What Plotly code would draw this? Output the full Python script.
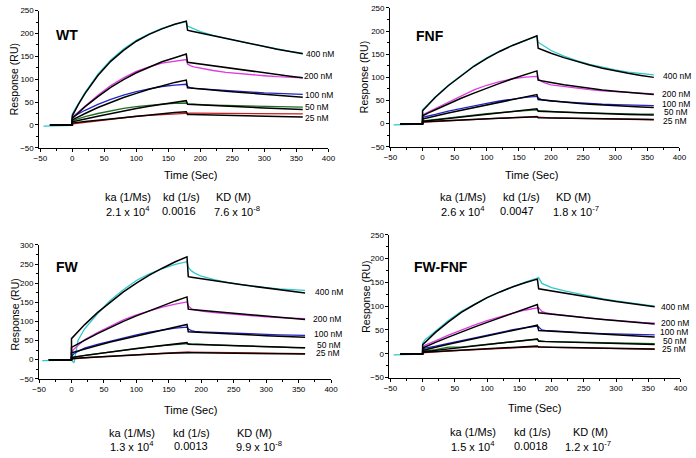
import plotly.graph_objects as go

# ---------------- data ----------------
T_ASSOC = [0, 4, 10, 20, 40, 60, 80, 100, 120, 140, 160, 178]
T_DISS = [180, 185, 190, 200, 220, 240, 260, 280, 300, 320, 340, 360]
BASE_T = [-45, -30, -15, 0]
BASE_Y = [-2.5, -1.5, -1, -1]
FIT_BASE_T = [-35, 0]
FIT_BASE_Y = [0, 0]

CONCS = ["400 nM", "200 nM", "100 nM", "50 nM", "25 nM"]
DATA_COLORS = ["#2ec8cc", "#e03ae0", "#2323c8", "#1f6e1f", "#c81e1e"]

# ---- WT ----
WT_FIT_ASSOC = [
    [20, 31, 46, 69, 108, 139, 163, 183, 198, 210, 220, 227],
    [14, 19.5, 27, 40, 62, 82, 99, 114, 126, 138, 147, 155],
    [11, 14, 18, 25, 38, 49, 60, 69, 78, 85, 93, 98],
    [7, 8, 10, 13, 19, 25, 31, 36, 41, 45, 49, 53],
    [4, 5, 6, 7.5, 10.5, 13.5, 16.5, 19, 22, 24.5, 27, 29],
]
WT_FIT_DISS = [
    [207, 205.5, 204, 200.5, 194, 188, 182, 176, 171, 165.5, 160.5, 155.5],
    [137, 136, 135, 132.7, 128.6, 124.6, 120.7, 117, 113.3, 109.8, 106.4, 103],
    [81, 80.5, 80, 78.5, 76, 73.7, 71.4, 69.2, 67, 64.9, 62.9, 60.7],
    [45, 44.6, 44.3, 43.6, 42.2, 40.9, 39.7, 38.4, 37.2, 36.1, 35, 33.8],
    [23, 22.8, 22.6, 22.3, 21.6, 20.9, 20.3, 19.7, 19.1, 18.5, 17.9, 17.3],
]
WT_DATA_ASSOC = [
    [24, 34, 48, 71, 111, 142, 166, 185, 199, 211, 220, 226],
    [16, 22, 29, 42, 65, 86, 103, 117, 127, 135, 140, 143],
    [17, 20, 25, 32, 45, 56, 65, 73, 79, 84, 87, 89],
    [9, 11, 14, 18, 25, 31, 36, 40, 43, 45.5, 47, 48],
    [2, 3, 4, 6, 10, 13.5, 16.5, 19, 21, 23, 25, 26],
]
WT_DATA_DISS = [
    [216, 213, 210, 204, 196, 189, 183, 177, 171, 166, 161, 157],
    [133, 129, 127, 124, 119, 115, 112, 109.5, 107.5, 105.5, 104, 103],
    [84, 81, 80, 79, 76.5, 74.5, 73, 71.5, 70, 69, 68, 67],
    [46, 45.5, 45, 44.5, 43.5, 42.5, 41.7, 41, 40.4, 39.9, 39.4, 39],
    [26, 26, 26, 25.8, 25.5, 25.3, 25, 24.8, 24.6, 24.4, 24.2, 24],
]
WT_LABEL_X = [362, 359, 361, 361, 361]
WT_LABEL_Y = [154, 106, 66, 39, 16]
WT_KIN = ["2.1 x 10<sup>4</sup>", "0.0016", "7.6 x 10<sup>-8</sup>"]

# ---- FNF ----
FNF_FIT_ASSOC = [
    [28, 34, 43, 57, 82, 104, 124, 141, 156, 169, 180.5, 190],
    [17, 20, 24, 30, 43, 55, 66, 77, 87, 97, 106, 114],
    [10, 11, 13, 16.5, 23, 29, 35, 41, 46.5, 52, 57.5, 63],
    [5, 5.6, 6.5, 8, 11, 14, 17, 20, 23, 26, 29, 32],
    [4, 4.3, 4.7, 5.3, 6.6, 7.9, 9.1, 10.3, 11.5, 12.7, 13.9, 15],
]
FNF_FIT_DISS = [
    [163, 160, 157.5, 152.2, 142.6, 134.2, 126.6, 119.9, 114, 108.8, 104.1, 100],
    [94, 92.5, 91.2, 88.7, 84, 79.8, 76.1, 72.8, 69.9, 67.3, 65, 63],
    [52, 51.2, 50.4, 49, 46.3, 44, 42, 40.2, 38.6, 37.2, 36, 35],
    [27, 26.7, 26.4, 25.8, 24.6, 23.6, 22.6, 21.7, 20.8, 20, 19.3, 18.6],
    [13, 12.9, 12.7, 12.4, 11.9, 11.4, 11, 10.6, 10.2, 9.8, 9.4, 9],
]
FNF_DATA_ASSOC = [
    [30, 36, 44, 58, 83, 105, 125, 142, 157, 169, 180, 189],
    [18, 22, 26, 33, 47, 61, 73, 83, 91, 97, 100.5, 102],
    [13, 15, 16.5, 20, 27, 33, 39, 44, 49, 53.5, 57, 59],
    [6, 6.5, 7.5, 9, 12, 15.5, 18.5, 21.5, 24, 26.5, 28.5, 30],
    [3, 3.3, 3.8, 4.5, 6, 7.5, 9, 10.5, 12, 13.2, 14.3, 15.5],
]
FNF_DATA_DISS = [
    [176, 171, 167, 158, 146, 136, 128, 121.5, 116, 111.5, 108, 105.5],
    [97, 91, 88, 84, 80, 76.5, 73.5, 71, 69, 67, 65.5, 64.5],
    [56, 52, 51, 49, 47, 45, 43.5, 42, 41, 40, 39.5, 39],
    [28, 27.5, 27, 26, 25, 24, 23, 22.3, 21.7, 21.2, 20.8, 20.5],
    [14, 13.5, 13, 12.5, 11.8, 11.2, 10.6, 10.1, 9.6, 9.2, 8.8, 8.5],
]
FNF_LABEL_X = [371, 369, 369, 372, 371]
FNF_LABEL_Y = [103, 65, 42, 25, 6]
FNF_KIN = ["2.6 x 10<sup>4</sup>", "0.0047", "1.8 x 10<sup>-7</sup>"]

# ---- FW ----
FW_FIT_ASSOC = [
    [55, 62.5, 73, 91, 123, 151, 177, 200, 221, 239, 256, 269],
    [32, 36, 41.5, 50.5, 68, 84.5, 100, 114.5, 128, 141, 153.5, 164],
    [18, 20, 23, 28, 37, 46, 54, 62, 70, 77, 85, 92],
    [6, 7, 8.5, 11, 15.5, 20, 24.5, 29, 33, 37, 41, 44.5],
    [3, 3.4, 4, 5, 7, 9, 11, 12.5, 14, 16, 17.5, 19],
]
FW_FIT_DISS = [
    [217, 215.6, 214.2, 211.4, 206.2, 201.2, 196.4, 191.8, 187.3, 183, 178.5, 174.5],
    [132, 131, 130.3, 128.6, 125.3, 122.1, 119, 116, 113, 110.2, 107.4, 104.7],
    [73, 72.5, 72, 71.1, 69.3, 67.6, 65.9, 64.3, 62.7, 61.2, 59.7, 58.3],
    [40, 39.7, 39.5, 39, 38, 37, 36, 35, 34, 33, 32, 31],
    [18, 17.9, 17.8, 17.6, 17.2, 16.8, 16.4, 16, 15.6, 15.2, 14.8, 14.5],
]
FW_DATA_ASSOC = [
    [-2, -8, 50, 80, 120, 155, 183, 207, 224, 238, 249, 256],
    [20, 28, 38, 52, 71, 88, 104, 117, 128, 137, 145, 151],
    [8, 16, 21, 30, 40, 49, 57, 65, 72, 78, 82.5, 85],
    [4, 6, 8.5, 11, 16, 20.5, 25, 29, 33, 36.5, 39.5, 42],
    [1, 2, 3.5, 5, 7.5, 9.5, 11.5, 13.5, 15.5, 17.5, 19.5, 21],
]
FW_DATA_DISS = [
    [241, 232, 226, 218, 209, 202, 197, 192, 188, 185, 182.5, 181],
    [140, 133, 130, 127, 123, 120, 117, 114.5, 112, 110, 108.5, 107],
    [80, 76, 74, 72.5, 71, 69.5, 68, 67, 66, 65, 64, 63.5],
    [42, 41, 40.5, 40, 38.5, 37.2, 36, 35, 34, 33, 32, 31],
    [20, 19.8, 19.6, 19.3, 18.8, 18.4, 18, 17.6, 17.2, 16.8, 16.4, 16],
]
FW_LABEL_X = [372, 369, 370, 375, 374]
FW_LABEL_Y = [177, 107, 67, 38, 17]
FW_KIN = ["1.3 x 10<sup>4</sup>", "0.0013", "9.9 x 10<sup>-8</sup>"]

# ---- FW-FNF ----
FWFNF_FIT_ASSOC = [
    [19, 24.5, 32.5, 45, 67, 87, 103, 118, 130, 141, 150, 157],
    [12, 14.5, 18, 24, 35, 46, 56, 66, 76, 85.5, 95, 103.5],
    [7, 8.5, 10.5, 13.5, 20, 26, 32, 38, 44, 49.5, 55, 60],
    [4, 4.6, 5.5, 7, 10, 13, 16, 19, 22, 25, 28, 31],
    [3, 3.3, 3.8, 4.5, 6, 7.5, 9, 10.5, 12, 13.5, 14.8, 16],
]
FWFNF_FIT_DISS = [
    [136.5, 135.3, 134.1, 131.7, 127, 122.5, 118.2, 114, 110, 106.1, 102.4, 98.8],
    [86, 85.2, 84.5, 83, 80, 77.3, 74.6, 72, 69.5, 67, 64.7, 62.5],
    [49, 48.6, 48.2, 47.3, 45.6, 44, 42.4, 40.9, 39.4, 38, 36.7, 35.4],
    [26, 25.8, 25.6, 25.2, 24.4, 23.6, 22.8, 22, 21.3, 20.6, 20, 19.3],
    [14, 13.9, 13.8, 13.6, 13.2, 12.7, 12.3, 11.8, 11.4, 11, 10.5, 10],
]
FWFNF_DATA_ASSOC = [
    [22, 30, 36, 48, 70, 89, 104, 118, 130, 141, 151, 159],
    [14, 18, 21, 27, 39, 50, 60, 69.5, 78, 85.5, 92, 96],
    [10, 12, 13, 16, 22, 28, 34, 40, 45.5, 50.5, 55, 58],
    [5, 6, 7, 8.5, 14, 14, 17, 20, 23, 26, 28.5, 30.5],
    [2, 2.5, 3.2, 4, 5.5, 7, 8.5, 10, 11.5, 13, 14.2, 15],
]
FWFNF_DATA_DISS = [
    [160, 148, 145, 139, 132, 126, 120.5, 115.5, 111, 107, 103, 100],
    [97, 89, 86.5, 84, 80.5, 77.5, 75, 72.5, 70, 68, 66, 64.5],
    [56, 50, 49, 48, 46.5, 45, 43.5, 42.5, 41.5, 40.5, 40, 39.5],
    [28, 26.5, 26, 25.5, 24.8, 24.1, 23.4, 22.8, 22.3, 21.8, 21.4, 21],
    [15, 14.5, 14, 13.5, 12.9, 12.3, 11.7, 11.1, 10.5, 10, 9.5, 9],
]
FWFNF_LABEL_X = [366, 367, 365, 370, 368]
FWFNF_LABEL_Y = [99, 65, 45, 26, 9]
FWFNF_KIN = ["1.5 x 10<sup>4</sup>", "0.0018", "1.2 x 10<sup>-7</sup>"]

KIN_HEADERS = ["ka (1/Ms)", "kd (1/s)", "KD (M)"]

# ---------------- layout helpers (pixel geometry of the 696x458 page) ----------------
W, H = 696, 458
FONT = "Liberation Sans, Arial, Helvetica, sans-serif"


def px(x):
    return x / W


def py(y):
    return 1 - y / H


panels = [
    dict(name="WT", fa=WT_FIT_ASSOC, fd=WT_FIT_DISS, da=WT_DATA_ASSOC, dd=WT_DATA_DISS,
         lx=WT_LABEL_X, ly=WT_LABEL_Y, kin=WT_KIN,
         dom_x=(33, 328), dom_y=(6.7, 146.7), xr=[-51.5, 400], yr=[-50, 250],
         ytitle=(8, 77), xtitle=(187, 174), title=(48, 32),
         kin_x=(123, 178, 231), kin_vx=(123, 176, 235), kin_y=(197, 211)),
    dict(name="FNF", fa=FNF_FIT_ASSOC, fd=FNF_FIT_DISS, da=FNF_DATA_ASSOC, dd=FNF_DATA_DISS,
         lx=FNF_LABEL_X, ly=FNF_LABEL_Y, kin=FNF_KIN,
         dom_x=(391, 686.3), dom_y=(4, 145.7), xr=[-50.5, 400], yr=[-50, 250],
         ytitle=(364, 75), xtitle=(535, 174), title=(415, 33),
         kin_x=(465, 525, 578), kin_vx=(465, 520, 581), kin_y=(197, 211)),
    dict(name="FW", fa=FW_FIT_ASSOC, fd=FW_FIT_DISS, da=FW_DATA_ASSOC, dd=FW_DATA_DISS,
         lx=FW_LABEL_X, ly=FW_LABEL_Y, kin=FW_KIN,
         dom_x=(32.7, 330.7), dom_y=(245.7, 382.3), xr=[-50, 400], yr=[-50, 300],
         ytitle=(8, 317), xtitle=(187, 414), title=(48, 268),
         kin_x=(128, 188, 253), kin_vx=(128, 188, 257), kin_y=(438, 451)),
    dict(name="FW-FNF", fa=FWFNF_FIT_ASSOC, fd=FWFNF_FIT_DISS, da=FWFNF_DATA_ASSOC, dd=FWFNF_DATA_DISS,
         lx=FWFNF_LABEL_X, ly=FWFNF_LABEL_Y, kin=FWFNF_KIN,
         dom_x=(390.3, 687.3), dom_y=(235.5, 381), xr=[-51.5, 400], yr=[-50, 250],
         ytitle=(366, 299), xtitle=(538, 412), title=(413, 268),
         kin_x=(476, 536, 595), kin_vx=(476, 535, 593), kin_y=(437, 451)),
]

fig = go.Figure()
annotations = []
layout_axes = {}

for i, p in enumerate(panels):
    n = "" if i == 0 else str(i + 1)
    xa, ya = "x" + n, "y" + n
    # data traces (coloured)
    for j in range(5):
        if j == 0:
            xs = BASE_T + T_ASSOC + T_DISS
            ys = BASE_Y + p["da"][j] + p["dd"][j]
        else:
            xs = [0] + T_ASSOC + T_DISS
            ys = [0] + p["da"][j] + p["dd"][j]
        fig.add_trace(go.Scatter(x=xs, y=ys, mode="lines", xaxis=xa, yaxis=ya,
                                 line=dict(color=DATA_COLORS[j], width=1.3),
                                 showlegend=False, hoverinfo="skip"))
    # fitted traces (black)
    for j in range(5):
        xs = FIT_BASE_T + T_ASSOC + T_DISS
        ys = FIT_BASE_Y + p["fa"][j] + p["fd"][j]
        fig.add_trace(go.Scatter(x=xs, y=ys, mode="lines", xaxis=xa, yaxis=ya,
                                 line=dict(color="black", width=1.5),
                                 showlegend=False, hoverinfo="skip"))
        annotations.append(dict(x=p["lx"][j], y=p["ly"][j], xref=xa, yref=ya,
                                text=CONCS[j], showarrow=False, xanchor="left",
                                yanchor="middle",
                                font=dict(size=8.5, family=FONT, color="black")))

    axis_common = dict(showline=True, linecolor="black", linewidth=1, ticks="outside",
                       ticklen=3, tickcolor="black", tickwidth=1, showgrid=False,
                       zeroline=False, dtick=50,
                       tickfont=dict(size=8, family=FONT, color="black"),
                       minor=dict(ticks="outside", ticklen=2, dtick=25, tickcolor="black"))
    layout_axes["xaxis" + n] = dict(axis_common, range=p["xr"], tick0=-50,
                                    domain=[px(p["dom_x"][0]), px(p["dom_x"][1])],
                                    anchor=ya)
    layout_axes["yaxis" + n] = dict(axis_common, range=p["yr"], tick0=-50,
                                    domain=[py(p["dom_y"][1]), py(p["dom_y"][0])],
                                    anchor=xa)

    annotations.append(dict(x=px(p["ytitle"][0]), y=py(p["ytitle"][1]), xref="paper", yref="paper",
                            text="Response (RU)", textangle=-90, showarrow=False,
                            xanchor="center", yanchor="middle",
                            font=dict(size=10.5, family=FONT, color="black")))
    annotations.append(dict(x=px(p["xtitle"][0]), y=py(p["xtitle"][1]), xref="paper", yref="paper",
                            text="Time (Sec)", showarrow=False, xanchor="center", yanchor="middle",
                            font=dict(size=11, family=FONT, color="black")))
    annotations.append(dict(x=px(p["title"][0]), y=py(p["title"][1]), xref="paper", yref="paper",
                            text="<b>" + p["name"] + "</b>", showarrow=False,
                            xanchor="left", yanchor="middle",
                            font=dict(size=14, family=FONT, color="black")))
    for k in range(3):
        annotations.append(dict(x=px(p["kin_x"][k]), y=py(p["kin_y"][0]), xref="paper", yref="paper",
                                text=KIN_HEADERS[k], showarrow=False, xanchor="center",
                                yanchor="middle", font=dict(size=11, family=FONT, color="black")))
        annotations.append(dict(x=px(p["kin_vx"][k]), y=py(p["kin_y"][1]), xref="paper", yref="paper",
                                text=p["kin"][k], showarrow=False, xanchor="center",
                                yanchor="middle", font=dict(size=11, family=FONT, color="black")))

fig.update_layout(width=W, height=H, margin=dict(l=0, r=0, t=0, b=0),
                  paper_bgcolor="white", plot_bgcolor="white",
                  showlegend=False, annotations=annotations, **layout_axes)

fig.write_html("out.html", config={"displayModeBar": False},
               post_script="document.body.style.margin='0px';")
